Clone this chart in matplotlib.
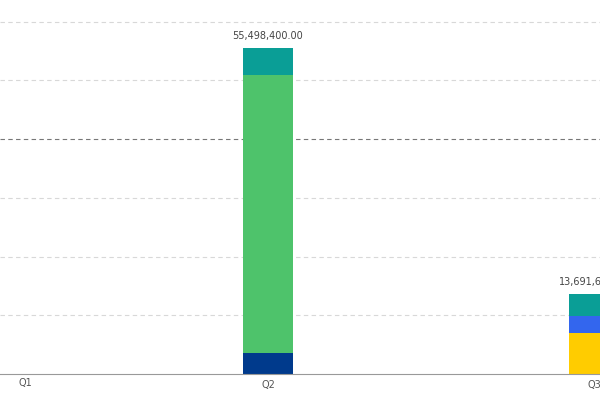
import matplotlib.pyplot as plt

quarters = ['Q1', 'Q2', 'Q3']
seg_bottom = [0, 3600000, 7000000]
seg_mid = [0, 47300000, 2900000]
seg_top = [0, 4598400, 3791600]
totals = ['', '55,498,400.00', '13,691,600.00']

fig = plt.figure(figsize=(6, 4), dpi=100)
ax = fig.add_axes([0, 0.065, 1, 0.935])
x = [0, 1, 2]
w = 0.153

# Q3 segments use different colours than Q2
bottom_cols = ['#003a8c', '#003a8c', '#ffcc00']
mid_cols = ['#4ec36b', '#4ec36b', '#3366ee']
ax.bar(x, seg_bottom, w, color=bottom_cols)
ax.bar(x, seg_mid, w, bottom=seg_bottom, color=mid_cols)
b2 = [a + b for a, b in zip(seg_bottom, seg_mid)]
ax.bar(x, seg_top, w, bottom=b2, color='#0a9e96')

for i, t in enumerate(totals):
    if t:
        tot = b2[i] + seg_top[i]
        ax.text(x[i], tot + 1.2e6, t, ha='center', va='bottom', fontsize=7, color='#444444')

for k in range(1, 7):
    dark = k == 4
    ax.axhline(k * 10e6, color='#777777' if dark else '#d8d8d8', lw=0.8,
               ls=(0, (4, 3)), zorder=0)

ax.set_xlim(0.178, 2.018)
ax.set_ylim(0, 63.7e6)
ax.set_yticks([])
ax.set_xticks([1, 2])
ax.set_xticklabels(quarters[1:], fontsize=7, color='#555555')
ax.text(0.042, -0.012, quarters[0], transform=ax.transAxes, ha='center', va='top',
        fontsize=7, color='#555555')
ax.tick_params(axis='x', length=0, pad=4)
for s in ['top', 'right', 'left']:
    ax.spines[s].set_visible(False)
ax.spines['bottom'].set_color('#999999')

fig.savefig('out.png')
